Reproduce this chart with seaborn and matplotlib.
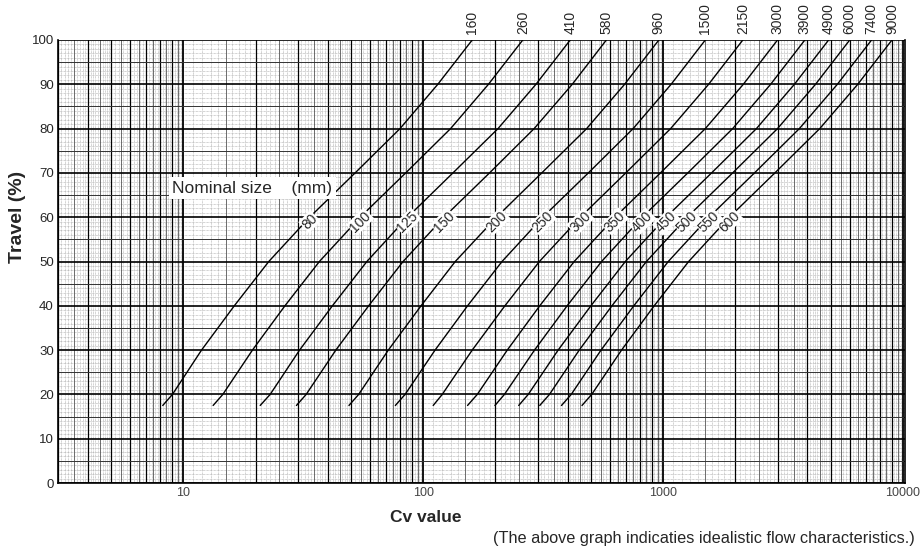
import numpy as np
import pandas as pd
import matplotlib
matplotlib.use('Agg')
import matplotlib.pyplot as plt
import seaborn as sns

# travel levels (%) at which each curve was read
travel = [17.5, 20, 30, 40, 50, 60, 70, 80, 90, 100]

# nominal sizes (mm) and rated Cv at 100% travel (top labels)
sizes = [80, 100, 125, 150, 200, 250, 300, 350, 400, 450, 500, 550, 600]
rated_cv = [160, 260, 410, 580, 960, 1500, 2150, 3000, 3900, 4900, 6000, 7400, 9000]

# Cv at the travel levels above
cv_80 = [8.2, 9.0, 11.9, 16.3, 22.7, 33.6, 52, 80, 115, 160]
cv_100 = [13.3, 14.6, 19.4, 26.5, 36.9, 54.6, 84.5, 130, 187, 260]
cv_125 = [20.9, 23, 30.5, 41.8, 58.2, 86, 133, 205, 295, 410]
cv_150 = [29.6, 32.5, 43.2, 59.2, 82.4, 122, 189, 290, 418, 580]
cv_200 = [49, 53.8, 71.5, 97.9, 136, 202, 312, 480, 691, 960]
cv_250 = [76.5, 84, 112, 153, 213, 315, 488, 750, 1080, 1500]
cv_300 = [110, 120, 160, 219, 305, 452, 699, 1075, 1548, 2150]
cv_350 = [153, 168, 224, 306, 426, 630, 975, 1500, 2160, 3000]
cv_400 = [199, 218, 291, 398, 554, 819, 1268, 1950, 2808, 3900]
cv_450 = [250, 274, 365, 500, 696, 1029, 1593, 2450, 3528, 4900]
cv_500 = [306, 336, 447, 612, 852, 1260, 1950, 3000, 4320, 6000]
cv_550 = [377, 414, 551, 755, 1051, 1554, 2405, 3700, 5328, 7400]
cv_600 = [459, 504, 671, 918, 1278, 1890, 2925, 4500, 6480, 9000]

curves = [cv_80, cv_100, cv_125, cv_150, cv_200, cv_250, cv_300,
          cv_350, cv_400, cv_450, cv_500, cv_550, cv_600]

y_ticks = list(range(0, 101, 10))
x_ticks = [10, 100, 1000, 10000]

rows = []
for size, cv in zip(sizes, curves):
    for t, c in zip(travel, cv):
        rows.append({'size': size, 'travel': t, 'cv': c})
df = pd.DataFrame(rows)

sns.set_style('white')
sans = ['Liberation Sans', 'DejaVu Sans']
plt.rcParams['font.family'] = sans

fig = plt.figure(figsize=(9.22, 5.5), dpi=100)
ax = fig.add_axes([58 / 922, 1 - 483 / 550, (905 - 58) / 922, (483 - 40) / 550])
ax.set_xscale('log')
xmin, xmax = 3.0, 10200
ax.set_xlim(xmin, xmax)
ax.set_ylim(0, 100)

# log paper grid
for k in range(0, 4):
    base = 10 ** k
    for m in np.arange(1, 10, 0.1):
        v = base * m
        if v < xmin or v > xmax:
            continue
        mr = round(m, 1)
        if abs(mr - round(mr)) < 1e-6:
            lw = 1.3 if round(mr) == 1 else 0.9
            ax.axvline(v, color='black', lw=lw, zorder=1)
        elif abs(mr * 2 - round(mr * 2)) < 1e-6:
            ax.axvline(v, color='#555555', lw=0.6, zorder=1)
        elif mr < 5 or abs(mr * 5 - round(mr * 5)) < 1e-6:
            ax.axvline(v, color='#a8a8a8', lw=0.5, ls=(0, (1, 1)), zorder=0.5)
ax.axvline(10000, color='black', lw=1.3, zorder=1)
for yv in range(0, 101):
    if yv % 10 == 0:
        ax.axhline(yv, color='black', lw=1.2, zorder=1)
    elif yv % 5 == 0:
        ax.axhline(yv, color='#333333', lw=0.7, zorder=1)
    else:
        ax.axhline(yv, color='#a8a8a8', lw=0.5, ls=(0, (1, 1)), zorder=0.5)

sns.lineplot(data=df, x='cv', y='travel', units='size', estimator=None,
             color='black', lw=1.0, sort=False, ax=ax, zorder=3, legend=False)

# size labels on the curves near 60 % travel
for size, cv in zip(sizes, curves):
    ax.text(cv[5], 59, str(size), rotation=45, ha='center', va='center',
            fontsize=10, zorder=4,
            bbox=dict(boxstyle='square,pad=0.05', fc='white', ec='none'))

ax.text(9.0, 66.5, 'Nominal size    (mm)', fontsize=12.5, ha='left', va='center',
        zorder=4, bbox=dict(boxstyle='square,pad=0.2', fc='white', ec='none'))

ax.set_yticks(y_ticks)
ax.set_yticklabels([str(v) for v in y_ticks], fontsize=9.5)
ax.set_xticks(x_ticks)
ax.set_xticklabels([str(v) for v in x_ticks], fontsize=9, color='#444444')
ax.xaxis.set_minor_formatter(matplotlib.ticker.NullFormatter())
ax.tick_params(axis='both', which='both', length=0, pad=3)
ax.set_xlabel('')
ax.set_ylabel('')
for s in ax.spines.values():
    s.set_color('black')
    s.set_linewidth(1.2)
ax.spines['top'].set_visible(False)

ax2 = ax.twiny()
ax2.set_xscale('log')
ax2.set_xlim(xmin, xmax)
ax2.set_xticks(rated_cv)
ax2.set_xticklabels([str(v) for v in rated_cv], rotation=90, fontsize=10)
ax2.xaxis.set_minor_locator(matplotlib.ticker.NullLocator())
ax2.tick_params(axis='x', length=0, pad=4)
for s in ax2.spines.values():
    s.set_visible(False)

fig.text(18 / 922, 1 - 217 / 550, 'Travel (%)', rotation=90, ha='center', va='center',
         fontsize=14, fontweight='bold')
fig.text(426 / 922, 1 - 517 / 550, 'Cv value', ha='center', va='center',
         fontsize=12.5, fontweight='bold')
fig.text(493 / 922, 1 - 538 / 550,
         '(The above graph indicaties idealistic flow characteristics.)',
         ha='left', va='center', fontsize=11.7)

fig.savefig('out.png', dpi=100)
